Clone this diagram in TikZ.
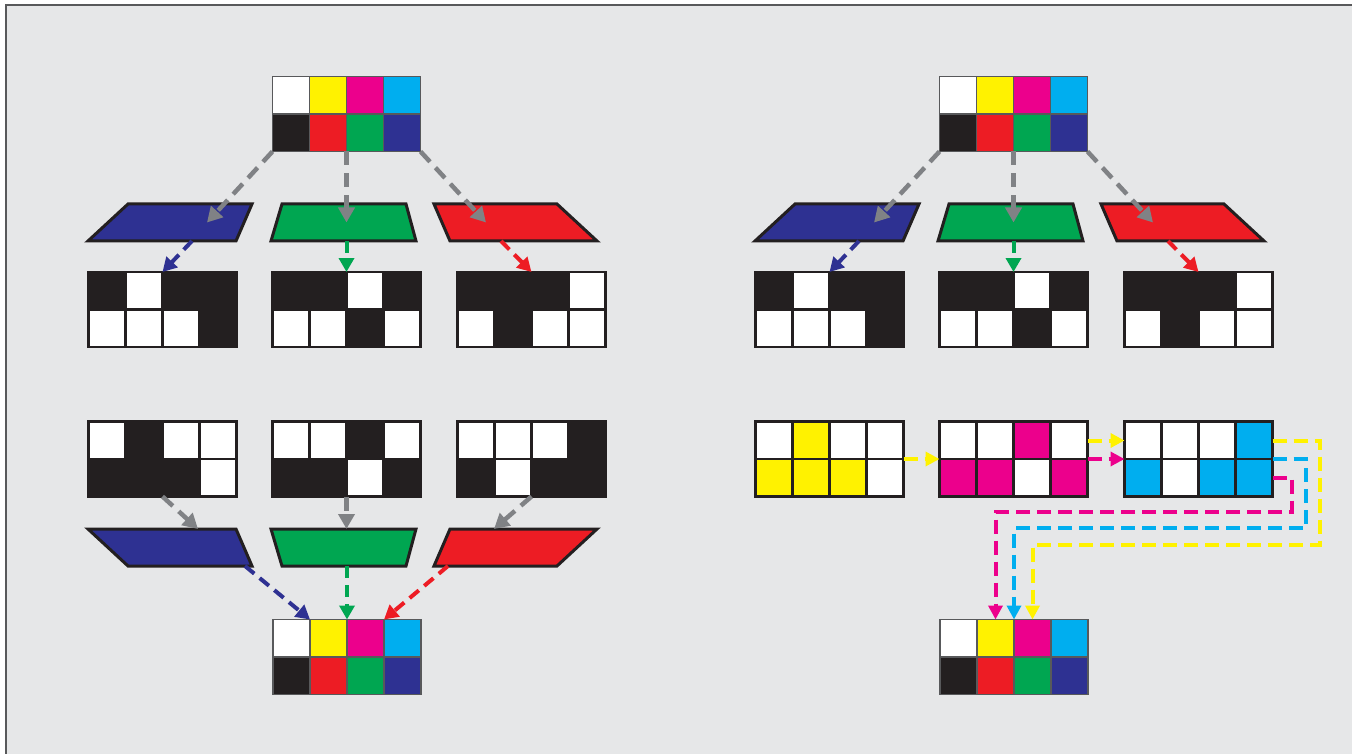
\documentclass[tikz,border=0pt]{standalone}
\usetikzlibrary{arrows.meta,calc}
\definecolor{bgC}{HTML}{E6E7E8}
\definecolor{frC}{HTML}{58595B}
\definecolor{grC}{HTML}{808285}
\definecolor{inkK}{HTML}{231F20}
\definecolor{inkR}{HTML}{ED1C24}
\definecolor{inkG}{HTML}{00A651}
\definecolor{inkB}{HTML}{2E3192}
\definecolor{inkC}{HTML}{00AEEF}
\definecolor{inkM}{HTML}{EC008C}
\definecolor{inkY}{HTML}{FFF200}
\tikzstyle{gbox}=[rectangle,minimum width=148pt,minimum height=75pt,inner sep=0pt,outer sep=0pt]
\tikzstyle{fbox}=[rectangle,minimum height=37pt,inner sep=0pt,outer sep=0pt]
\tikzstyle{ccell}=[draw=frC,line width=1.2pt]
\tikzstyle{bcell}=[draw=inkK,line width=2.5pt]
\tikzstyle{filt}=[draw=inkK,line width=3pt,line join=miter]
\tikzstyle{garr}=[draw=grC,line width=4.5pt,dash pattern=on 14pt off 8pt,-{Triangle[length=15pt,width=16pt]}]
\tikzstyle{carr}=[line width=4pt,dash pattern=on 12pt off 7pt,-{Triangle[length=14pt,width=15pt]}]
\tikzstyle{rarr}=[line width=4pt,dash pattern=on 14pt off 7pt,-{Triangle[length=14pt,width=14pt]}]
\newcommand{\pixgrid}[4]{%
  \node[gbox] (#1) at (#2) {};
  \foreach \cl [count=\i from 0] in {#4} {
    \pgfmathtruncatemacro{\cx}{mod(\i,4)}
    \pgfmathtruncatemacro{\cy}{div(\i,4)}
    \filldraw[#3,fill=\cl] ($(#1.north west)+(\cx*37,\cy*37.5)$) rectangle ++(37,37.5);
  }
}
\newcommand{\fshape}[6]{%
  \filldraw[filt,fill=#2] ($(#1.north west)+(#3,0)$) -- ($(#1.north east)-(#4,0)$) -- ($(#1.south east)-(#5,0)$) -- ($(#1.south west)+(#6,0)$) -- cycle;
}

\begin{document}
\begin{tikzpicture}[x=1pt,y=-1pt]
\useasboundingbox (0,0) rectangle (1352,754);
\fill[bgC] (6,5) rectangle (1352,754);
\draw[frC,line width=2pt] (6,754) -- (6,5) -- (1352,5);

\pixgrid{S}{346.5,114}{ccell}{white,inkY,inkM,inkC,inkK,inkR,inkG,inkB}
\node[fbox,minimum width=164pt] (FB) at (170,222.5) {};
\node[fbox,minimum width=145pt] (FG) at (343.5,222.5) {};
\node[fbox,minimum width=163pt] (FR) at (515.5,222.5) {};
\fshape{FB}{inkB}{40}{0}{16}{0}
\fshape{FG}{inkG}{11}{10}{0}{0}
\fshape{FR}{inkR}{0}{40}{0}{16}
\pixgrid{PB}{162.5,309.5}{bcell}{inkK,white,inkK,inkK,white,white,white,inkK}
\pixgrid{PG}{346.5,309.5}{bcell}{inkK,inkK,white,inkK,white,white,inkK,white}
\pixgrid{PR}{531.5,309.5}{bcell}{inkK,inkK,inkK,white,white,inkK,white,white}
\draw[garr] (S.south west) -- ($(FB.center)+(37,0)$);
\draw[garr] (S.south) -- (S.south |- FG.center);
\draw[garr] (S.south east) -- ($(FR.center)+(-29.5,0)$);
\draw[carr,inkB] ($(FB.south)+(22,0)$) -- (PB.north);
\draw[carr,inkG] (FG.south -| PG.north) -- (PG.north);
\draw[carr,inkR] ($(FR.south)+(-14.5,0)$) -- (PR.north);

\pixgrid{QB}{162.5,459}{bcell}{white,inkK,white,white,inkK,inkK,inkK,white}
\pixgrid{QG}{346.5,459}{bcell}{white,white,inkK,white,inkK,inkK,white,inkK}
\pixgrid{QR}{531.5,459}{bcell}{white,white,white,inkK,inkK,white,inkK,inkK}
\node[fbox,minimum width=164pt] (LB) at (170,547.5) {};
\node[fbox,minimum width=145pt] (LG) at (343.5,547.5) {};
\node[fbox,minimum width=163pt] (LR) at (515.5,547.5) {};
\fshape{LB}{inkB}{0}{16}{0}{40}
\fshape{LG}{inkG}{0}{0}{10}{11}
\fshape{LR}{inkR}{16}{0}{40}{0}
\pixgrid{T}{347,657}{ccell}{white,inkY,inkM,inkC,inkK,inkR,inkG,inkB}
\draw[garr] (QB.south) -- ($(LB.north)+(28,0)$);
\draw[garr] (QG.south) -- (QG.south |- LG.north);
\draw[garr] (QR.south) -- ($(LR.north)+(-21.5,0)$);
\draw[carr,inkB] ($(LB.south)+(75,0)$) -- ($(T.north west)+(37,0)$);
\draw[carr,inkG] (LG.south -| T.north) -- (T.north);
\draw[carr,inkR] ($(LR.south)+(-67.5,0)$) -- ($(T.north east)+(-37,0)$);

\pixgrid{S2}{1013.5,114}{ccell}{white,inkY,inkM,inkC,inkK,inkR,inkG,inkB}
\node[fbox,minimum width=164pt] (FB2) at (837,222.5) {};
\node[fbox,minimum width=145pt] (FG2) at (1010.5,222.5) {};
\node[fbox,minimum width=163pt] (FR2) at (1182.5,222.5) {};
\fshape{FB2}{inkB}{40}{0}{16}{0}
\fshape{FG2}{inkG}{11}{10}{0}{0}
\fshape{FR2}{inkR}{0}{40}{0}{16}
\pixgrid{PB2}{829.5,309.5}{bcell}{inkK,white,inkK,inkK,white,white,white,inkK}
\pixgrid{PG2}{1013.5,309.5}{bcell}{inkK,inkK,white,inkK,white,white,inkK,white}
\pixgrid{PR2}{1198.5,309.5}{bcell}{inkK,inkK,inkK,white,white,inkK,white,white}
\draw[garr] (S2.south west) -- ($(FB2.center)+(37,0)$);
\draw[garr] (S2.south) -- (S2.south |- FG2.center);
\draw[garr] (S2.south east) -- ($(FR2.center)+(-29.5,0)$);
\draw[carr,inkB] ($(FB2.south)+(22,0)$) -- (PB2.north);
\draw[carr,inkG] (FG2.south -| PG2.north) -- (PG2.north);
\draw[carr,inkR] ($(FR2.south)+(-14.5,0)$) -- (PR2.north);

\pixgrid{QY}{829.5,459}{bcell}{white,inkY,white,white,inkY,inkY,inkY,white}
\pixgrid{QM}{1013.5,459}{bcell}{white,white,inkM,white,inkM,inkM,white,inkM}
\pixgrid{QC}{1198.5,459}{bcell}{white,white,white,inkC,inkC,white,inkC,inkC}
\pixgrid{T2}{1014,657}{ccell}{white,inkY,inkM,inkC,inkK,inkR,inkG,inkB}
\draw[rarr,inkY] (QY.east) -- (QM.west);
\draw[rarr,inkY] ($(QM.east)+(0,-18.5)$) -- ($(QC.west)+(0,-18.5)$);
\draw[rarr,inkM] (QM.east) -- (QC.west);
\draw[rarr,inkY] ($(QC.east)+(0,-18.5)$) -| ++(47,104) -| ($(T2.north)+(18.5,0)$);
\draw[rarr,inkC] (QC.east) -| ++(33,69) -| (T2.north);
\draw[rarr,inkM] ($(QC.east)+(0,18.5)$) -| ++(19,34.5) -| ($(T2.north)+(-18.5,0)$);
\end{tikzpicture}
\end{document}
